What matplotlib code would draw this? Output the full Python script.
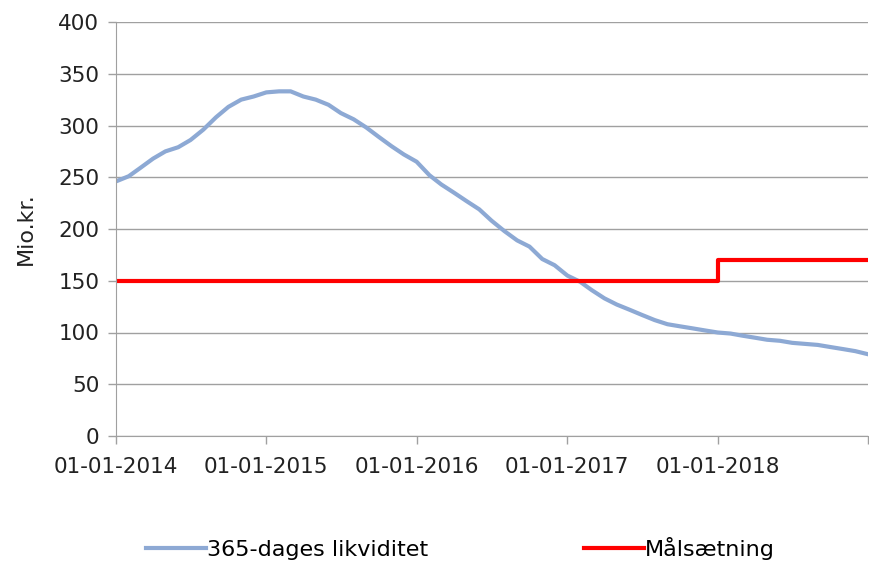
import numpy as np
import pandas as pd
import matplotlib
matplotlib.use("Agg")
import matplotlib.pyplot as plt

# Monthly readings of the 365-day liquidity (mio. kr.), Jan 2014 - Jan 2019
liq_start = "2014-01-01"
liq_values = [
    246, 251, 259, 268, 275, 279, 286, 296, 308, 318, 325, 328,
    332, 333, 333, 328, 325, 320, 312, 306, 298, 289, 280, 272,
    265, 252, 243, 235, 227, 219, 208, 198, 189, 183, 171, 165,
    155, 149, 141, 133, 127, 122, 117, 112, 108, 106, 104, 102,
    100, 99, 97, 95, 93, 92, 90, 89, 88, 86, 84, 82,
    79,
]

# Target (Målsætning) as a step series
target_dates = ["2014-01-01", "2018-01-01", "2019-01-01"]
target_values = [150, 170, 170]

tick_years = ["2014-01-01", "2015-01-01", "2016-01-01", "2017-01-01", "2018-01-01", "2019-01-01"]
tick_labels = ["01-01-2014", "01-01-2015", "01-01-2016", "01-01-2017", "01-01-2018", ""]

liq_dates = pd.date_range(liq_start, periods=len(liq_values), freq="MS")

plt.rcParams["font.family"] = ["DejaVu Sans"]

fig = plt.figure(figsize=(8.7, 5.68), dpi=100)
ax = fig.add_axes([116 / 870, 1 - 436 / 568, 752 / 870, 414 / 568])

ax.plot(liq_dates, liq_values, color="#8DA9D4", lw=3, label="365-dages likviditet")
ax.plot(pd.to_datetime(target_dates), target_values, color="#FF0000", lw=3,
        drawstyle="steps-post", label="Målsætning")

ax.set_ylim(0, 400)
ax.set_yticks(np.arange(0, 401, 50))
ax.set_xlim(pd.Timestamp("2014-01-01"), pd.Timestamp("2019-01-01"))
ax.set_xticks(pd.to_datetime(tick_years))
ax.set_xticklabels(tick_labels)

ax.grid(axis="y", color="#A0A0A0", lw=1)
ax.set_axisbelow(True)
for s in ["top", "right"]:
    ax.spines[s].set_visible(False)
for s in ["left", "bottom"]:
    ax.spines[s].set_color("#A0A0A0")
ax.tick_params(colors="#A0A0A0", labelcolor="#222222", labelsize=15.5, length=6, width=1)
ax.tick_params(axis="y", pad=6)
ax.tick_params(axis="x", pad=9)
ax.set_ylabel("Mio.kr.", fontsize=16, color="#222222", labelpad=16)

fig.legend(loc="center", bbox_to_anchor=(0.529, 1 - 548 / 568), ncol=2, frameon=False,
           fontsize=16, handlelength=2.7, handletextpad=0.05, columnspacing=7.0)

fig.savefig("out.png", dpi=100)
